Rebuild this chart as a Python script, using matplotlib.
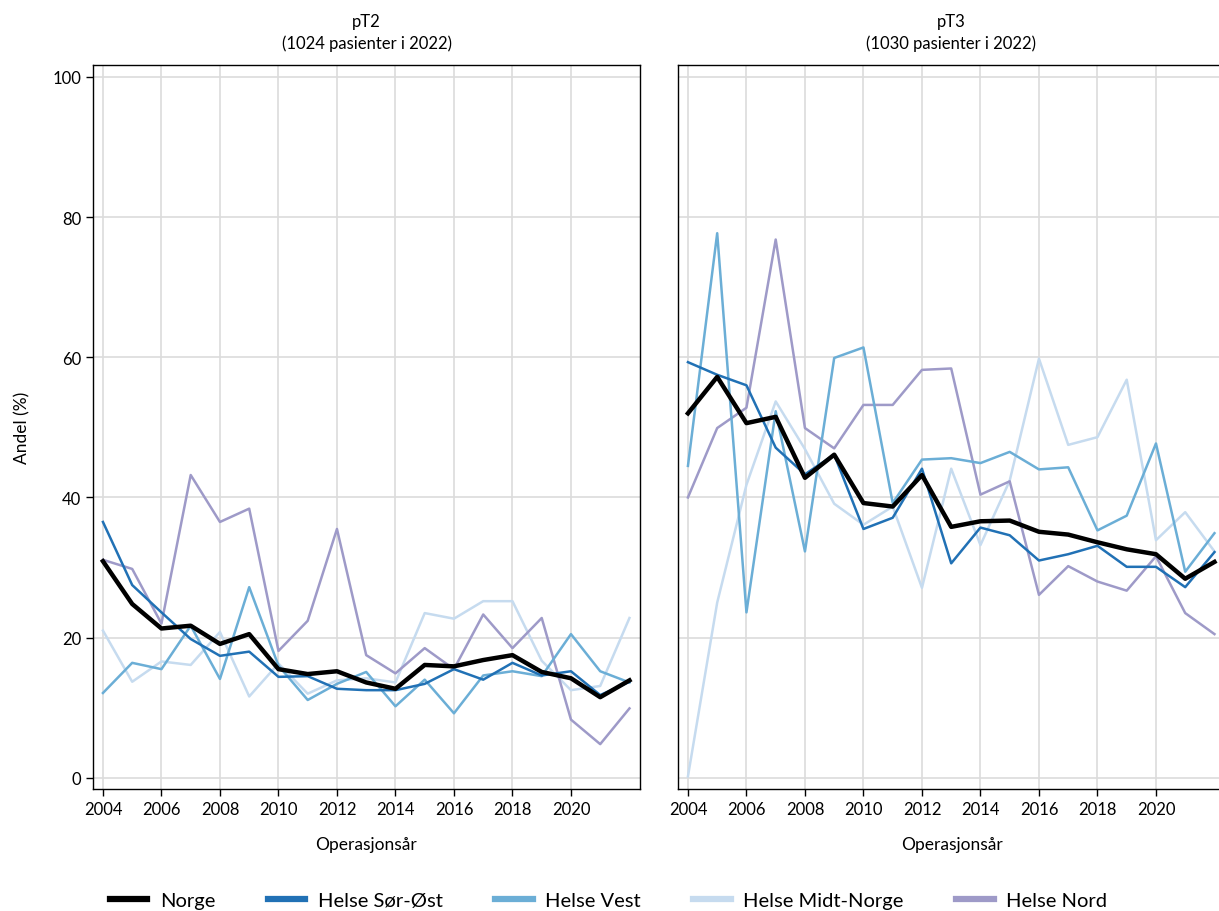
import numpy as np
import matplotlib.pyplot as plt

plt.rcParams['font.family'] = ['Lato', 'DejaVu Sans']

years = np.arange(2004, 2023)

# pT2
pt2_norge = [30.9, 24.8, 21.3, 21.7, 19.1, 20.5, 15.5, 14.8, 15.2, 13.6,
             12.7, 16.1, 15.9, 16.8, 17.5, 15.1, 14.2, 11.5, 13.9]
pt2_sorost = [36.5, 27.5, 23.6, 19.8, 17.4, 18.0, 14.4, 14.5, 12.7, 12.5,
              12.5, 13.4, 15.5, 14.0, 16.4, 14.6, 15.2, 11.8, 13.7]
pt2_vest = [12.1, 16.4, 15.5, 21.7, 14.1, 27.2, 16.0, 11.1, 13.4, 15.1,
            10.2, 14.0, 9.2, 14.6, 15.2, 14.5, 20.5, 15.2, 13.6]
pt2_midt = [21.0, 13.7, 16.6, 16.1, 20.8, 11.6, 16.3, 12.0, 13.9, 14.2,
            13.6, 23.5, 22.7, 25.2, 25.2, 16.7, 12.5, 13.1, 22.8]
pt2_nord = [31.1, 29.8, 22.0, 43.2, 36.5, 38.4, 18.1, 22.4, 35.5, 17.5,
            14.9, 18.5, 15.5, 23.3, 18.5, 22.8, 8.3, 4.8, 9.9]

# pT3
pt3_norge = [52.0, 57.2, 50.6, 51.5, 42.8, 46.1, 39.2, 38.7, 43.2, 35.8,
             36.6, 36.7, 35.1, 34.7, 33.6, 32.6, 31.9, 28.4, 30.8]
pt3_sorost = [59.3, 57.5, 56.0, 47.1, 43.3, 46.1, 35.5, 37.1, 44.1, 30.6,
              35.7, 34.6, 31.0, 31.9, 33.1, 30.1, 30.1, 27.2, 32.2]
pt3_vest = [44.5, 77.7, 23.6, 52.3, 32.3, 59.9, 61.4, 39.2, 45.4, 45.6,
            44.9, 46.5, 44.0, 44.3, 35.3, 37.4, 47.7, 29.4, 34.9]
pt3_midt = [0.2, 25.0, 41.8, 53.7, 46.9, 39.1, 36.1, 38.7, 27.1, 44.1,
            33.2, 42.4, 59.8, 47.5, 48.6, 56.8, 33.9, 37.9, 32.3]
pt3_nord = [40.0, 49.9, 52.8, 76.8, 49.9, 47.0, 53.2, 53.2, 58.2, 58.4,
            40.4, 42.3, 26.1, 30.2, 28.0, 26.7, 31.6, 23.5, 20.5]

regioner = ['Norge', 'Helse Sør-Øst', 'Helse Vest', 'Helse Midt-Norge', 'Helse Nord']
farger = ['#000000', '#2171b5', '#6baed6', '#c6dbef', '#9e9ac8']
bredder = [3.2, 1.8, 1.8, 1.8, 1.8]

paneler = [
    ('pT2\n(1024 pasienter i 2022)',
     [pt2_norge, pt2_sorost, pt2_vest, pt2_midt, pt2_nord]),
    ('pT3\n(1030 pasienter i 2022)',
     [pt3_norge, pt3_sorost, pt3_vest, pt3_midt, pt3_nord]),
]

W, H = 1219, 912
fig = plt.figure(figsize=(W / 100, H / 100), dpi=100)
ax1 = fig.add_axes([93 / W, 1 - 790 / H, 547 / W, 724 / H])
ax2 = fig.add_axes([678 / W, 1 - 790 / H, 547 / W, 724 / H])

# draw the lightest lines first so Norge ends on top
rekkefolge = [3, 4, 2, 1, 0]

for ax, (tittel, serier) in zip([ax1, ax2], paneler):
    for i in rekkefolge:
        ax.plot(years, serier[i], color=farger[i], lw=bredder[i],
                label=regioner[i], zorder=3 + (i == 0))
    ax.set_title(tittel, fontsize=12, linespacing=1.45, pad=12)
    ax.set_xlim(2003.66, 2022.36)
    ax.set_ylim(-1.6, 101.7)
    ax.set_xticks(np.arange(2004, 2021, 2))
    ax.set_yticks(np.arange(0, 101, 20))
    ax.grid(True, color='#dcdcdc', lw=1.2)
    ax.set_axisbelow(True)
    ax.tick_params(labelsize=12, length=5, width=1, colors='black')
    ax.set_xlabel('Operasjonsår', fontsize=12.5, labelpad=14)
    for s in ax.spines.values():
        s.set_linewidth(1.0)

ax1.set_ylabel('Andel (%)', fontsize=12.5, labelpad=16)
ax2.tick_params(axis='y', left=False, labelleft=False)

handles, labels = ax1.get_legend_handles_labels()
order = [labels.index(r) for r in regioner]
fig.legend([handles[k] for k in order], regioner, loc='center left',
           bbox_to_anchor=(102 / W, 1 - 901 / H), ncol=5, frameon=False,
           fontsize=14.5, handlelength=1.85, handletextpad=0.62,
           columnspacing=2.62, borderaxespad=0)
for leg_line in fig.legends[0].get_lines():
    leg_line.set_linewidth(4.5)

fig.savefig('out.png', dpi=100)
